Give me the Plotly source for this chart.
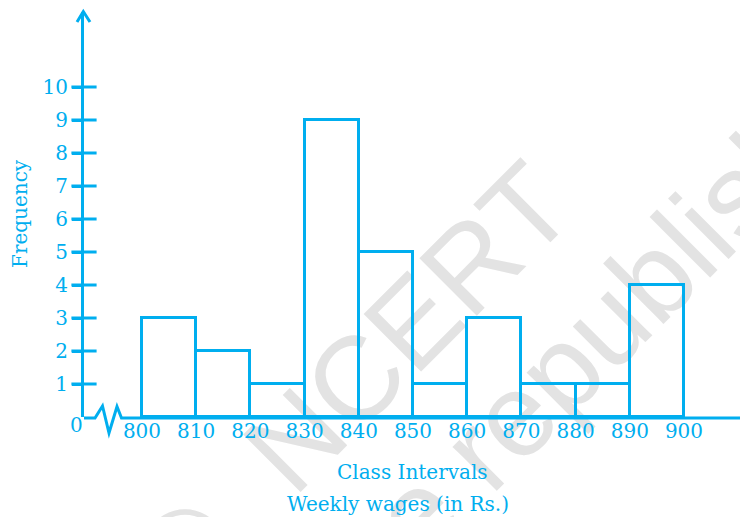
import plotly.graph_objects as go

# ---- data ----
class_lower = [800, 810, 820, 830, 840, 850, 860, 870, 880, 890]
class_width = 10
frequency = [3, 2, 1, 9, 5, 1, 3, 1, 1, 4]
x_tick_vals = [800, 810, 820, 830, 840, 850, 860, 870, 880, 890, 900]
x_tick_text = [str(v) for v in x_tick_vals]
y_tick_vals = [1, 2, 3, 4, 5, 6, 7, 8, 9, 10]
y_tick_text = [str(v) for v in y_tick_vals]

CYAN = "rgb(0,174,239)"
SERIF = "DejaVu Serif"
OFF = 8                            # page body margin
W, H = 748 - OFF, 517 - OFF
L, T, R, B = 84 - OFF, 12 - OFF, 0, 517 - 417
PW, PH = W - L - R, H - T - B
X0 = 789.3
XSCALE = 5.42                      # px per Rs.
X1 = X0 + PW / XSCALE
Y1 = PH / 33.0                    # 33 px per unit


def pp(x, y):
    """screen pixel (reference coords) -> paper coordinates"""
    x, y = x - OFF, y - OFF
    return (x - L) / PW, (H - B - y) / PH


centers = [c + class_width / 2 for c in class_lower]

fig = go.Figure()
fig.add_trace(go.Bar(
    x=centers, y=frequency, width=class_width,
    marker=dict(color="rgba(255,255,255,0)", line=dict(color=CYAN, width=3)),
    hoverinfo="skip", showlegend=False,
))
# inner half of the y ticks (crossing the axis)
fig.add_trace(go.Scatter(
    x=[X0] * len(y_tick_vals), y=y_tick_vals, mode="markers",
    marker=dict(symbol="line-ew", size=18, line=dict(color=CYAN, width=3)),
    cliponaxis=False, hoverinfo="skip", showlegend=False,
))

shapes = []
# x-axis line with break
pts = [(84, 418), (95, 418), (102.5, 406), (109, 433), (117, 406.5), (121.5, 418), (748, 418)]
path = "M " + " L ".join(f"{pp(x, y)[0]:.5f},{pp(x, y)[1]:.5f}" for x, y in pts)
shapes.append(dict(type="path", path=path, xref="paper", yref="paper",
                   line=dict(color=CYAN, width=3)))
# arrow heads
for arrow in ([(77, 22), (83.3, 11.5), (90, 22)], [(742, 410), (750, 418), (742, 426)]):
    p = "M " + " L ".join(f"{pp(x, y)[0]:.5f},{pp(x, y)[1]:.5f}" for x, y in arrow)
    shapes.append(dict(type="path", path=p, xref="paper", yref="paper",
                       line=dict(color=CYAN, width=3)))

# watermark (below the data)
for txt, (cx, cy) in (("©", (177, 543)), ("NCERT", (400, 319)),
                      ("not to be republished", (496, 418))):
    a, b = pp(cx - 1, cy - 1)
    c, d = pp(cx + 1, cy + 1)
    shapes.append(dict(type="rect", xref="paper", yref="paper", x0=a, x1=c, y0=d, y1=b,
                       line=dict(width=0), fillcolor="rgba(0,0,0,0)", layer="below",
                       label=dict(text=txt, textangle=-45, textposition="middle center",
                                  font=dict(family="Liberation Sans", size=118, color="#e3e3e3"))))

ann = []


def label(text, x, y, angle=0):
    px, py = pp(x, y)
    ann.append(dict(text=text, x=px, y=py, xref="paper", yref="paper", showarrow=False,
                    xanchor="center", yanchor="middle", textangle=angle,
                    font=dict(family=SERIF, size=20, color=CYAN)))


label("0", 76, 425)
label("Frequency", 20, 214, -90)
label("Class Intervals", 412, 472)
label("Weekly wages (in Rs.)", 398, 504)

fig.update_layout(
    width=W, height=H, margin=dict(l=L, r=R, t=T, b=B, pad=0),
    paper_bgcolor="white", plot_bgcolor="white",
    shapes=shapes, annotations=ann, bargap=0,
    xaxis=dict(range=[X0, X1], tickvals=x_tick_vals, ticktext=x_tick_text,
               showgrid=False, zeroline=False, showline=False, ticks="",
               tickfont=dict(family=SERIF, size=20, color=CYAN), fixedrange=True),
    yaxis=dict(range=[0, Y1], tickvals=y_tick_vals, ticktext=y_tick_text,
               showgrid=False, zeroline=False, showline=True, linecolor=CYAN, linewidth=3,
               ticks="outside", ticklen=9, tickwidth=3, tickcolor=CYAN,
               tickfont=dict(family=SERIF, size=20, color=CYAN), fixedrange=True),
)

fig.write_html("out.html")
